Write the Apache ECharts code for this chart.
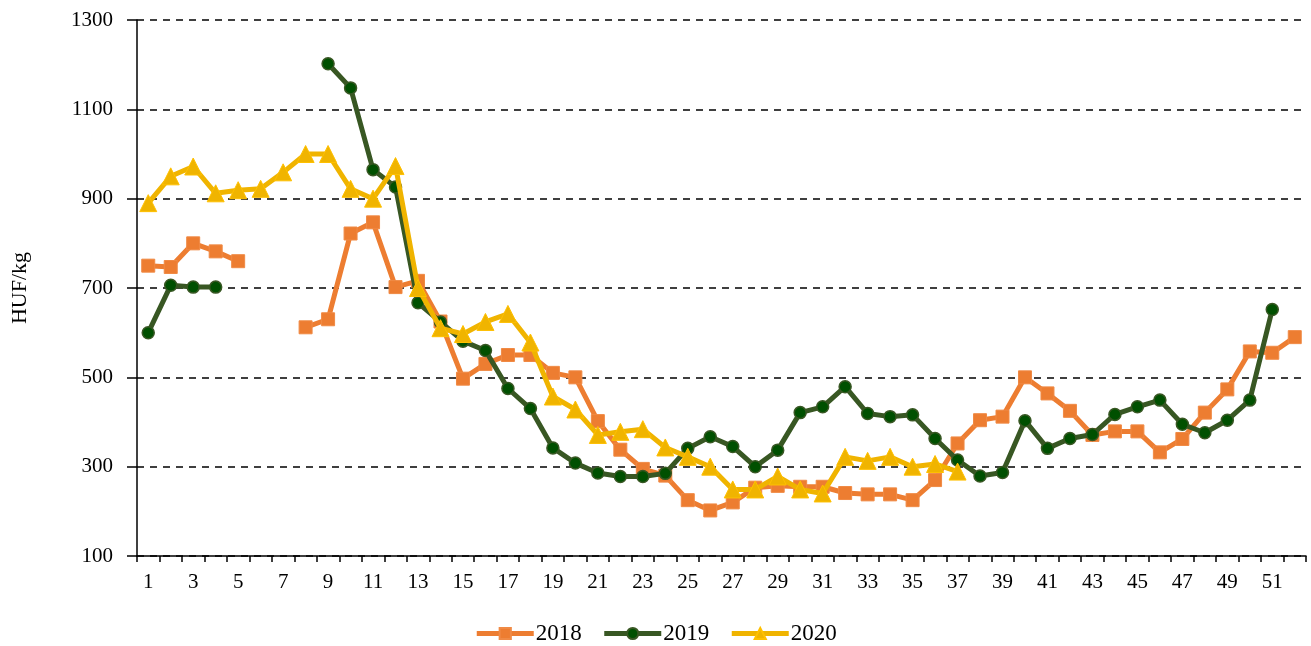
<!DOCTYPE html>
<html>
<head>
    <meta charset="utf-8">
    <title>HUF/kg</title>
    <script src="https://cdn.jsdelivr.net/npm/echarts@6/dist/echarts.min.js"></script>
    <style>
        html, body { margin: 0; padding: 0; background: #fff; }
        #chart1 { width: 1311px; height: 646px; }
    </style>
</head>
<body>
<div id="chart1"></div>
<script type="text/javascript">
    // heti sorszámok 1..52
    var weeks = [];
    for (var w = 1; w <= 52; w++) { weeks.push(String(w)); }

    var yTicks = [100, 300, 500, 700, 900, 1100, 1300];

    var y2018 = [750, 747, 800, 782, 760, null, null, 612, 630, 822, 847, 702,
        716, 625, 497, 530, 550, 550, 510, 500, 402, 338, 295, 280,
        225, 202, 220, 253, 257, 255, 255, 241, 238, 238, 225, 270,
        352, 404, 412, 500, 464, 425, 371, 379, 379, 332, 362, 421,
        473, 558, 555, 590];

    var y2019 = [600, 706, 702, 702, null, null, null, null, 1202, 1148, 965, 926,
        667, 624, 581, 560, 475, 430, 342, 308, 286, 278, 278, 285,
        341, 367, 345, 300, 337, 421, 434, 479, 419, 412, 416, 363,
        315, 279, 287, 403, 341, 363, 372, 417, 434, 449, 395, 376,
        404, 449, 652, null];

    var y2020 = [890, 950, 972, 912, 919, 922, 959, 1000, 1000, 922, 900, 973,
        700, 610, 597, 624, 642, 578, 457, 428, 371, 378, 384, 343,
        322, 300, 249, 249, 278, 249, 240, 322, 313, 322, 300, 306,
        289, null, null, null, null, null, null, null, null, null, null, null,
        null, null, null, null];

    var myChart1 = echarts.init(document.getElementById('chart1'));
    var font = 'Liberation Serif';

    myChart1.setOption({
        animation: false,
        textStyle: { fontFamily: font, color: '#000' },
        grid: { left: 137, right: 5, top: 20, bottom: 90, containLabel: false },
        legend: {
            top: 617,
            left: 'center',
            itemWidth: 57,
            itemHeight: 14,
            itemGap: 20,
            lineStyle: { width: 5 },
            textStyle: { fontFamily: font, fontSize: 23, color: '#000', padding: [0, 0, 0, -3] },
            data: ['2018', '2019', '2020']
        },
        xAxis: {
            type: 'category',
            data: weeks,
            boundaryGap: true,
            axisLine: { lineStyle: { color: '#000', width: 1.5 } },
            axisTick: { show: true, inside: false, length: 6, alignWithLabel: false, interval: 0, lineStyle: { color: '#000', width: 1.5 } },
            axisLabel: { interval: 1, margin: 16, fontSize: 21, color: '#000', fontFamily: font },
            splitLine: { show: false }
        },
        yAxis: {
            type: 'value',
            min: yTicks[0],
            max: yTicks[yTicks.length - 1],
            interval: 200,
            name: 'HUF/kg',
            nameLocation: 'middle',
            nameGap: 106,
            nameRotate: 90,
            nameTextStyle: { fontFamily: font, fontSize: 22, color: '#000' },
            axisLine: { show: true, lineStyle: { color: '#000', width: 1.5 } },
            axisTick: { show: true, inside: false, length: 10, lineStyle: { color: '#000', width: 1.5 } },
            axisLabel: {
                margin: 24, fontSize: 21, color: '#000', fontFamily: font,
                formatter: function (v) { return String(v); }
            },
            splitLine: { show: true, lineStyle: { color: '#000', width: 1.5, type: [7, 6] } }
        },
        series: [{
            name: '2018',
            type: 'line',
            data: y2018,
            connectNulls: false,
            showAllSymbol: true,
            symbol: 'rect',
            symbolSize: 13,
            lineStyle: { color: '#ED7D31', width: 5 },
            itemStyle: { color: '#ED7D31', borderColor: '#F08A45', borderWidth: 1 },
            z: 2
        }, {
            name: '2019',
            type: 'line',
            data: y2019,
            connectNulls: false,
            showAllSymbol: true,
            symbol: 'circle',
            symbolSize: 12,
            lineStyle: { color: '#385723', width: 5 },
            itemStyle: { color: '#005000', borderColor: '#385723', borderWidth: 1.5 },
            z: 3
        }, {
            name: '2020',
            type: 'line',
            data: y2020,
            connectNulls: false,
            showAllSymbol: true,
            symbol: 'triangle',
            symbolSize: 17,
            lineStyle: { color: '#F0B400', width: 5 },
            itemStyle: { color: '#F0B400', borderColor: '#FFC000', borderWidth: 1 },
            z: 4
        }]
    });
</script>
</body>
</html>
